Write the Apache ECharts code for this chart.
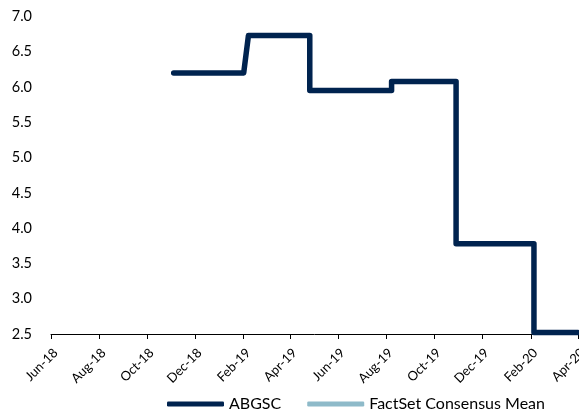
<!DOCTYPE html>
<html>
<head>
<meta charset="utf-8">
<script src="https://cdn.jsdelivr.net/npm/echarts@6/dist/echarts.min.js"></script>
<style>
html,body{margin:0;padding:0;background:#fff;}
#chart{width:579px;height:416px;}
</style>
</head>
<body>
<div id="chart"></div>
<script>
// ---- data ----
const seriesNames = ['ABGSC', 'FactSet Consensus Mean'];
const abgscDates = ['2018-11-04','2019-02-01','2019-02-07','2019-04-26','2019-04-26','2019-08-08','2019-08-08','2019-10-29','2019-10-29','2020-02-05','2020-02-05','2020-04-01'];
const abgscValues = [6.20, 6.20, 6.73, 6.73, 5.95, 5.95, 6.08, 6.08, 3.78, 3.78, 2.52, 2.52];
const consensusDates = [];
const consensusValues = [];
const tickDates = ['2018-06-01','2018-08-01','2018-10-01','2018-12-01','2019-02-01','2019-04-01','2019-06-01','2019-08-01','2019-10-01','2019-12-01','2020-02-01','2020-04-01'];
const tickLabels = ['Jun-18','Aug-18','Oct-18','Dec-18','Feb-19','Apr-19','Jun-19','Aug-19','Oct-19','Dec-19','Feb-20','Apr-20'];
const yMin = 2.5, yMax = 7.0, yStep = 0.5;

function ts(s){ const p = s.split('-').map(Number); return Date.UTC(p[0], p[1]-1, p[2]); }
const tickTs = tickDates.map(ts);

const chart = echarts.init(document.getElementById('chart'), null, {renderer:'canvas'});
const font = 'Lato';
chart.setOption({
  animation: false,
  textStyle: { fontFamily: font },
  grid: { left: 51, right: 1, top: 16.5, bottom: 82, containLabel: false, outerBoundsMode: 'none' },
  legend: {
    left: 167, top: 396, padding: 0,
    icon: 'roundRect',
    itemWidth: 57, itemHeight: 5, itemGap: 26,
    textStyle: { fontFamily: font, fontSize: 16, color: '#000' },
    data: seriesNames
  },
  xAxis: {
    type: 'value',
    min: tickTs[0], max: tickTs[tickTs.length-1],
    axisLine: { show: true, lineStyle: { color: '#000', width: 1 } },
    axisTick: { show: true, length: 5, customValues: tickTs, lineStyle: { color: '#000', width: 1 } },
    axisLabel: {
      customValues: tickTs,
      rotate: 45, margin: 12, verticalAlign: 'top',
      fontFamily: font, fontSize: 13, color: '#000',
      formatter: function (v) {
        const i = tickTs.indexOf(v);
        return i >= 0 ? tickLabels[i] : '';
      }
    },
    splitLine: { show: false }
  },
  yAxis: {
    type: 'value', min: yMin, max: yMax, interval: yStep,
    axisLine: { show: false }, axisTick: { show: false },
    splitLine: { show: false },
    axisLabel: { margin: 19, fontFamily: font, fontSize: 14.5, color: '#000',
      formatter: v => v.toFixed(1) }
  },
  series: [
    {
      name: seriesNames[0], type: 'line', symbol: 'none',
      color: '#00234F',
      lineStyle: { width: 5.5, color: '#00234F', cap: 'round', join: 'round' },
      data: abgscDates.map((d, i) => [ts(d), abgscValues[i]])
    },
    {
      name: seriesNames[1], type: 'line', symbol: 'none',
      color: '#8EBAC9',
      lineStyle: { width: 5.5, color: '#8EBAC9' },
      data: consensusDates.map((d, i) => [ts(d), consensusValues[i]])
    }
  ]
});
</script>
</body>
</html>
